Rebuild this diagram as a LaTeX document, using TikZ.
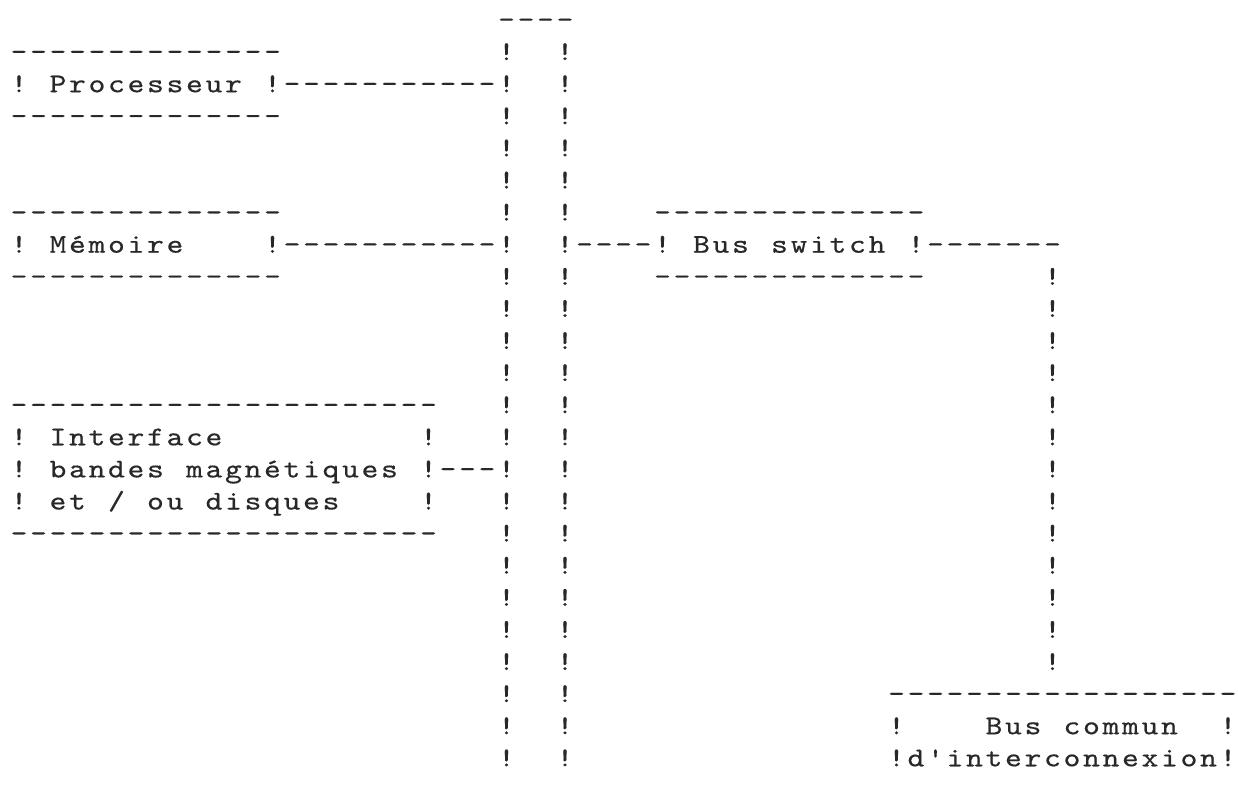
\documentclass[tikz,border=0pt]{standalone}
\usepackage{graphicx}
\usepackage{fontspec}
\newfontfamily\typew[FakeBold=0.4]{lmmono10-regular.otf}
\definecolor{ink}{RGB}{40,40,40}
\makeatletter
\newcommand\tw[1]{\@tfor\tc:=#1\do{\makebox[9.75pt]{\scalebox{1.18}[1]{\tc}}}}
\makeatother
\tikzset{rowtxt/.style={inner sep=0pt, outer sep=0pt, anchor=base west, text=ink, font=\typew\fontsize{13.5pt}{16pt}\selectfont}}
\newcommand\rowat[4]{\node[rowtxt] (#1) at ({4.625pt+#2*9.75pt},{-(14pt+#3*16.05pt)}) {\tw{#4}};}
\begin{document}
\begin{tikzpicture}
\fill[white] (0,0) rectangle (619pt,-393pt);
\useasboundingbox (0,0) rectangle (619pt,-393pt);
\rowat{r0}{25}{0}{----}
\rowat{r1}{0}{1}{--------------~~~~~~~~~~~!~~!}
\rowat{r2}{0}{2}{!~Processeur~!-----------!~~!}
\rowat{r3}{0}{3}{--------------~~~~~~~~~~~!~~!}
\rowat{r4}{25}{4}{!~~!}
\rowat{r5}{25}{5}{!~~!}
\rowat{r6}{0}{6}{--------------~~~~~~~~~~~!~~!~~~~--------------}
\rowat{r7}{0}{7}{!~Mémoire~~~~!-----------!~~!----!~Bus~switch~!-------}
\rowat{r8}{0}{8}{--------------~~~~~~~~~~~!~~!~~~~--------------~~~~~~!}
\rowat{r9}{25}{9}{!~~!~~~~~~~~~~~~~~~~~~~~~~~~!}
\rowat{r10}{25}{10}{!~~!~~~~~~~~~~~~~~~~~~~~~~~~!}
\rowat{r11}{25}{11}{!~~!~~~~~~~~~~~~~~~~~~~~~~~~!}
\rowat{r12}{0}{12}{----------------------~~~!~~!~~~~~~~~~~~~~~~~~~~~~~~~!}
\rowat{r13}{0}{13}{!~Interface~~~~~~~~~~!~~~!~~!~~~~~~~~~~~~~~~~~~~~~~~~!}
\rowat{r14}{0}{14}{!~bandes~magnétiques~!---!~~!~~~~~~~~~~~~~~~~~~~~~~~~!}
\rowat{r15}{0}{15}{!~et~/~ou~disques~~~~!~~~!~~!~~~~~~~~~~~~~~~~~~~~~~~~!}
\rowat{r16}{0}{16}{----------------------~~~!~~!~~~~~~~~~~~~~~~~~~~~~~~~!}
\rowat{r17}{25}{17}{!~~!~~~~~~~~~~~~~~~~~~~~~~~~!}
\rowat{r18}{25}{18}{!~~!~~~~~~~~~~~~~~~~~~~~~~~~!}
\rowat{r19}{25}{19}{!~~!~~~~~~~~~~~~~~~~~~~~~~~~!}
\rowat{r20}{25}{20}{!~~!~~~~~~~~~~~~~~~~~~~~~~~~!}
\rowat{r21}{25}{21}{!~~!~~~~~~~~~~~~~~~~------------------}
\rowat{r22}{25}{22}{!~~!~~~~~~~~~~~~~~~~!~~~~Bus~commun~~!}
\rowat{r23}{25}{23}{!~~!~~~~~~~~~~~~~~~~!d'interconnexion!}
\end{tikzpicture}
\end{document}
